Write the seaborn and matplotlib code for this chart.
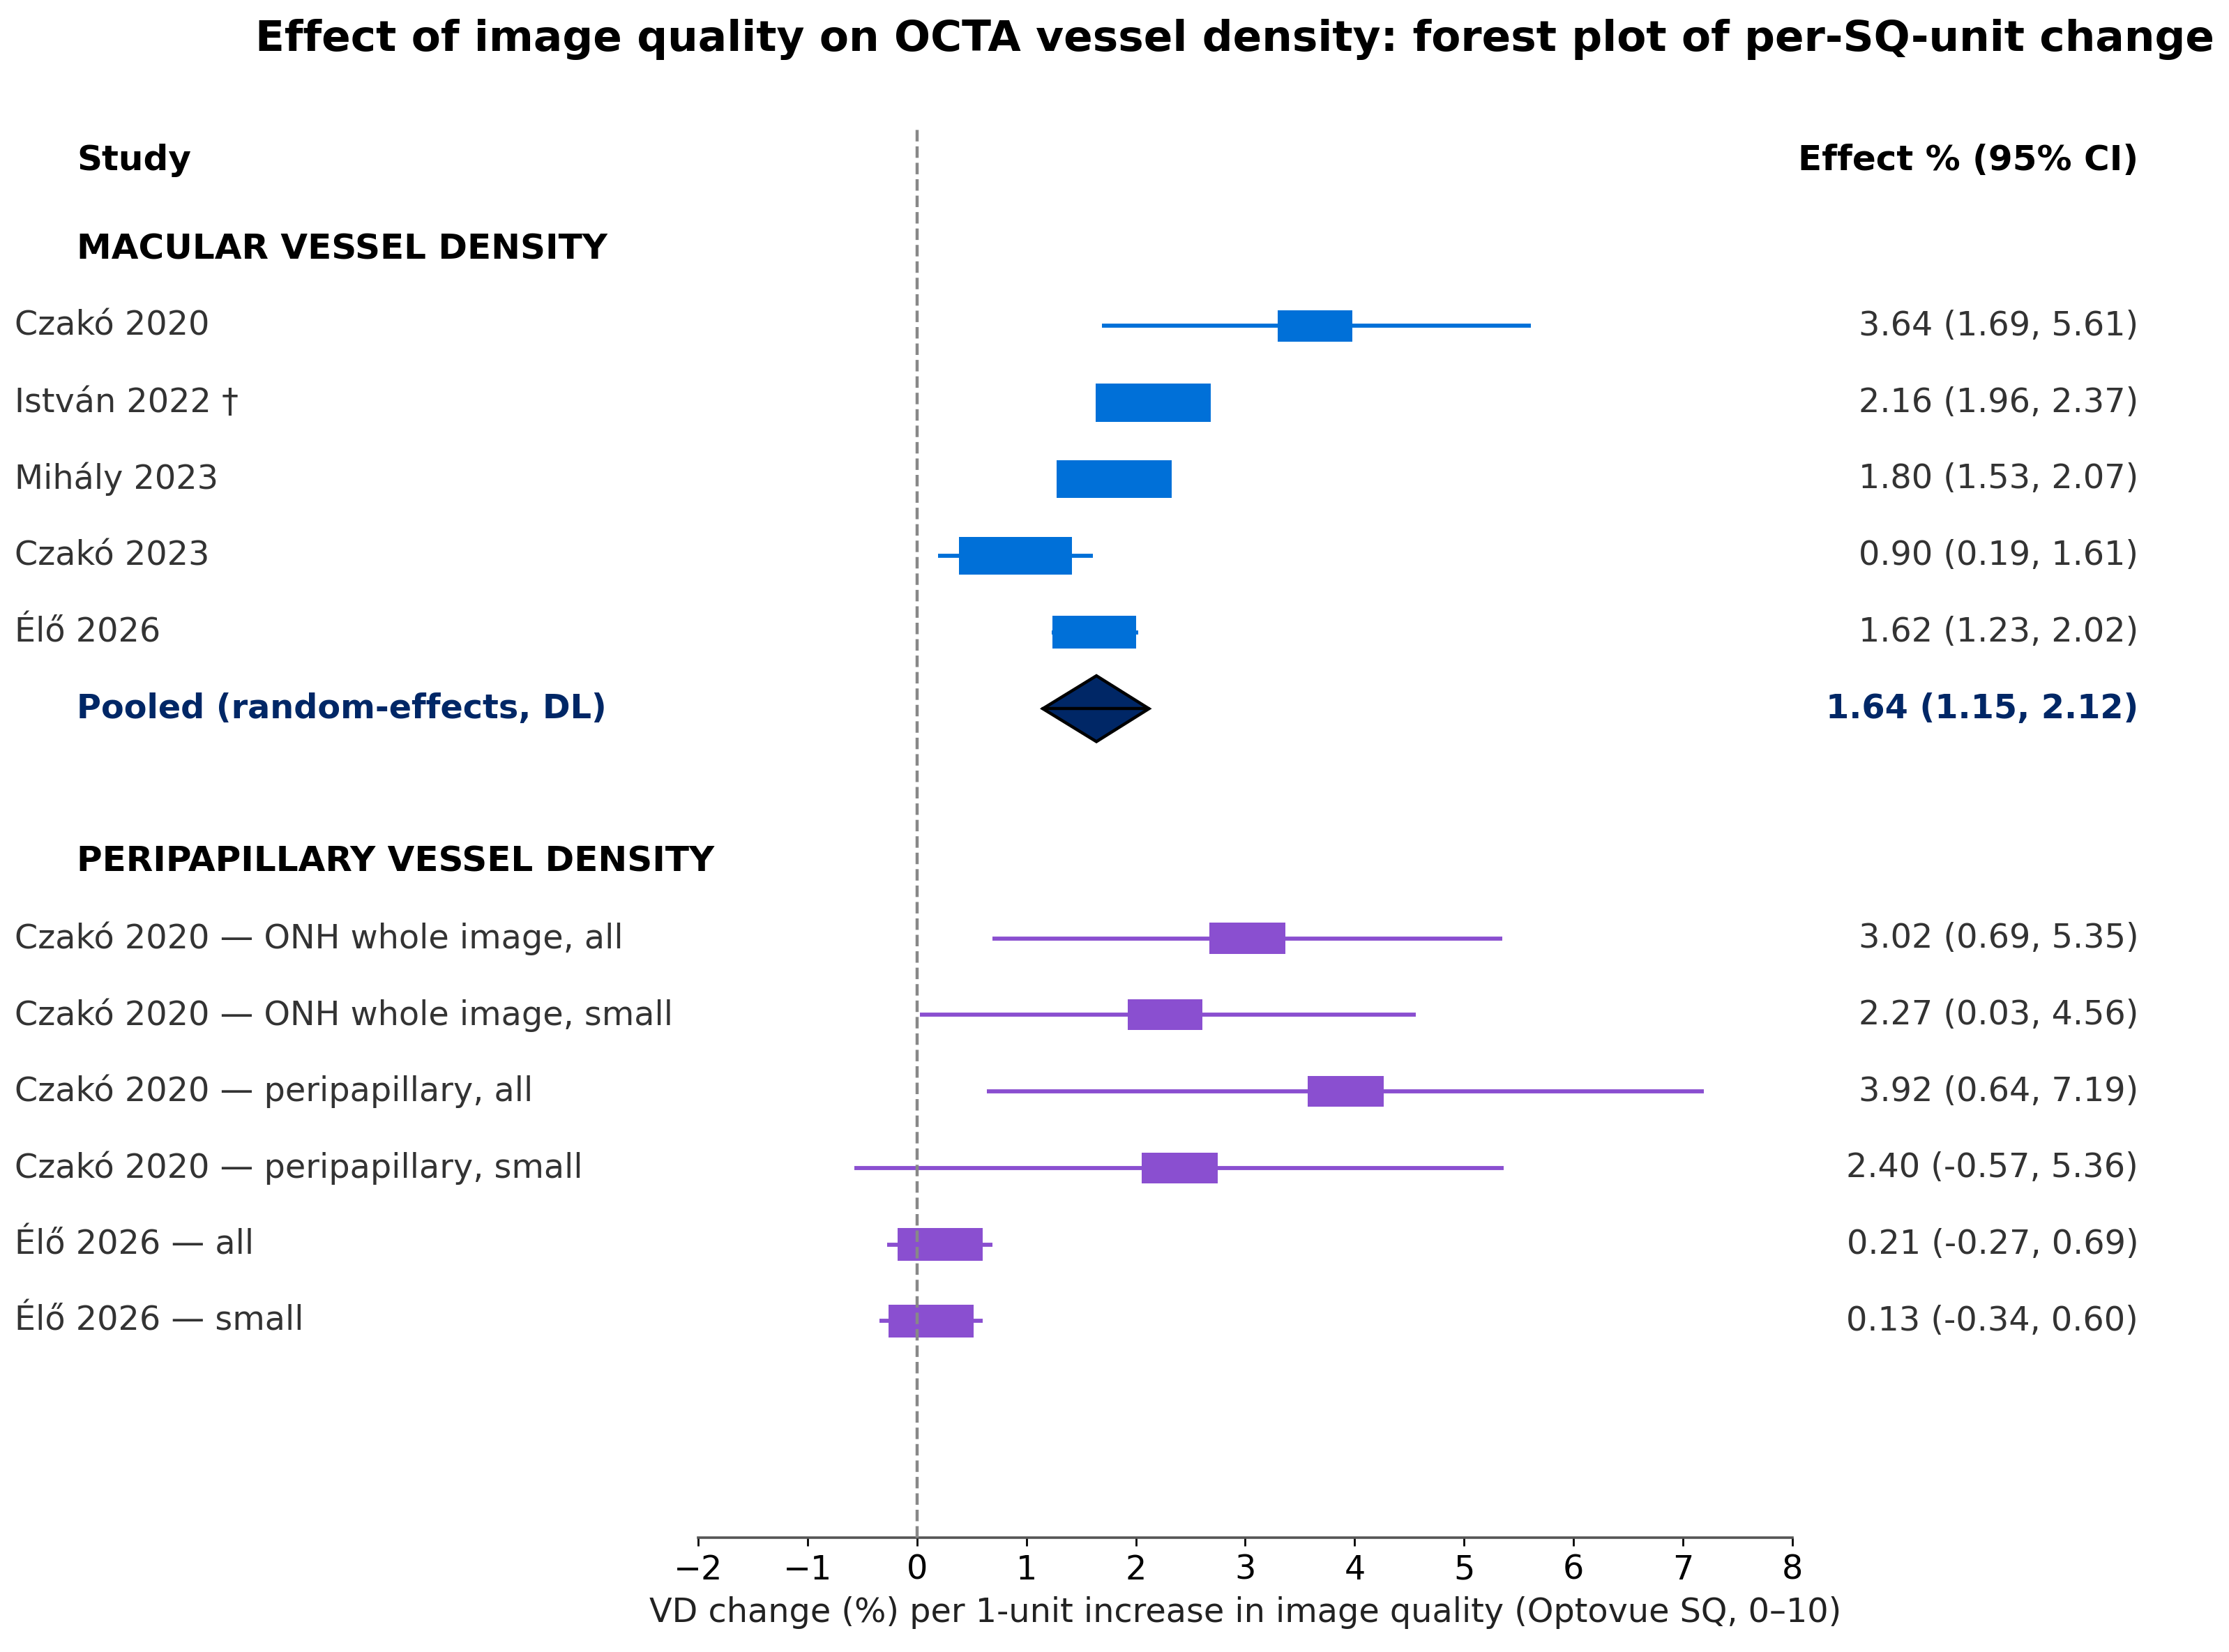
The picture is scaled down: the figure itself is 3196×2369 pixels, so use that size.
import matplotlib
matplotlib.use("Agg")
import matplotlib.pyplot as plt
import matplotlib.transforms as mtransforms
from matplotlib.patches import Rectangle, Polygon
import numpy as np
import seaborn as sns

# macular vessel density studies
macular_labels = ["Czakó 2020", "István 2022 †", "Mihály 2023", "Czakó 2023", "Élő 2026"]
macular_est = [3.64, 2.16, 1.80, 0.90, 1.62]
macular_lo = [1.69, 1.96, 1.53, 0.19, 1.23]
macular_hi = [5.61, 2.37, 2.07, 1.61, 2.02]
macular_weight = [0.65, 1.00, 1.00, 0.98, 0.73]

# pooled macular estimate
pooled_label = "Pooled (random-effects, DL)"
pooled_est, pooled_lo, pooled_hi = 1.64, 1.15, 2.12

# peripapillary vessel density studies
peri_labels = ["Czakó 2020 — ONH whole image, all",
               "Czakó 2020 — ONH whole image, small",
               "Czakó 2020 — peripapillary, all",
               "Czakó 2020 — peripapillary, small",
               "Élő 2026 — all",
               "Élő 2026 — small"]
peri_est = [3.02, 2.27, 3.92, 2.40, 0.21, 0.13]
peri_lo = [0.69, 0.03, 0.64, -0.57, -0.27, -0.34]
peri_hi = [5.35, 4.56, 7.19, 5.36, 0.69, 0.60]
peri_weight = [0.66, 0.65, 0.66, 0.66, 0.74, 0.74]

xticks = [-2, -1, 0, 1, 2, 3, 4, 5, 6, 7, 8]

sns.set_theme(style="white")
plt.rcParams['font.family'] = ['DejaVu Sans']

col_mac = "#0070d8"
col_peri = "#8a4fd0"
col_pool = "#002766"
col_txt = "#333333"
fs = 17.2
fs_head = 18

fig = plt.figure(figsize=(15.98, 11.845), dpi=200)
ax = fig.add_axes([0.3132, 0.0692, 0.4909, 0.8535])
ax.set_xlim(-2, 8)
ax.set_ylim(15.83, -2.59)

trans = mtransforms.blended_transform_factory(fig.transFigure, ax.transData)
x_lab, x_head, x_val = 0.0066, 0.0344, 0.9594


def draw_study(y, est, lo, hi, w, col, label):
    ax.plot([lo, hi], [y, y], color=col, lw=2.1, solid_capstyle='butt', zorder=2)
    bw = 1.05 * w
    bh = 0.5 * np.sqrt(w)
    ax.add_patch(Rectangle((est - bw / 2, y - bh / 2), bw, bh, facecolor=col,
                           edgecolor='none', zorder=3))
    ax.text(x_lab, y, label, transform=trans, ha='left', va='center',
            fontsize=fs, color=col_txt, clip_on=False)
    ax.text(x_val, y, f"{est:.2f} ({lo:.2f}, {hi:.2f})", transform=trans,
            ha='right', va='center', fontsize=fs, color=col_txt, clip_on=False)


# column headers
ax.text(x_head, -2.16, "Study", transform=trans, ha='left', va='center',
        fontsize=fs_head, fontweight='bold', color='black')
ax.text(x_val, -2.16, "Effect % (95% CI)", transform=trans, ha='right', va='center',
        fontsize=fs_head, fontweight='bold', color='black')

# macular section
ax.text(x_head, -1, "MACULAR VESSEL DENSITY", transform=trans, ha='left', va='center',
        fontsize=fs_head, fontweight='bold', color='black')
for i in range(len(macular_labels)):
    draw_study(i, macular_est[i], macular_lo[i], macular_hi[i], macular_weight[i],
               col_mac, macular_labels[i])

# pooled diamond
yp = len(macular_labels)
ax.add_patch(Polygon([(pooled_lo, yp), (pooled_est, yp - 0.43), (pooled_hi, yp),
                      (pooled_est, yp + 0.43)], closed=True, facecolor=col_pool,
                     edgecolor='black', lw=1.6, zorder=4))
ax.plot([pooled_lo, pooled_hi], [yp, yp], color='black', lw=1.6, zorder=4)
ax.text(x_head, yp, pooled_label, transform=trans, ha='left', va='center',
        fontsize=fs, fontweight='bold', color=col_pool)
ax.text(x_val, yp, f"{pooled_est:.2f} ({pooled_lo:.2f}, {pooled_hi:.2f})", transform=trans,
        ha='right', va='center', fontsize=fs, fontweight='bold', color=col_pool)

# peripapillary section
yh = yp + 2
ax.text(x_head, yh, "PERIPAPILLARY VESSEL DENSITY", transform=trans, ha='left', va='center',
        fontsize=fs_head, fontweight='bold', color='black')
for i in range(len(peri_labels)):
    draw_study(yh + 1 + i, peri_est[i], peri_lo[i], peri_hi[i], peri_weight[i],
               col_peri, peri_labels[i])

ax.axvline(0, color='#888888', ls='--', lw=1.6, zorder=5)

sns.despine(ax=ax, left=True, top=True, right=True)
ax.spines['bottom'].set_color('#555555')
ax.spines['bottom'].set_linewidth(1.3)
ax.set_yticks([])
ax.set_xticks(xticks)
ax.tick_params(axis='x', bottom=True, length=4.2, width=1.0, color='black',
               labelsize=fs, labelcolor='black', pad=4)
ax.set_xlabel("VD change (%) per 1-unit increase in image quality (Optovue SQ, 0–10)",
              fontsize=fs, color='#222222', labelpad=5)
ax.grid(False)

fig.text(0.554, 0.976, "Effect of image quality on OCTA vessel density: forest plot of per-SQ-unit change",
         ha='center', va='center', fontsize=22.1, fontweight='bold', color='black')

fig.savefig("out.png", dpi=200)
